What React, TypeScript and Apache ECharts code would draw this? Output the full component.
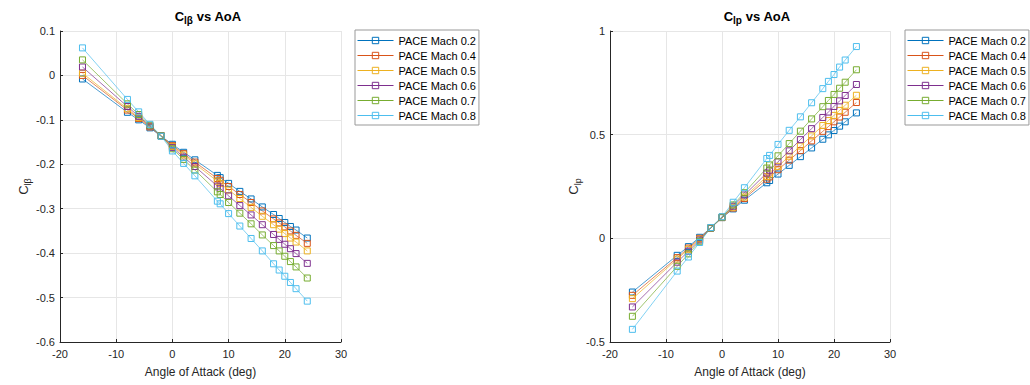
import React, { useEffect, useRef } from 'react';
import * as echarts from 'echarts';

const aoa = [-16, -8, -6, -4, -2, 0, 2, 4, 8, 8.5, 10, 12, 14, 16, 18, 19, 20, 21, 22, 24];
const machLabels = ['PACE Mach 0.2', 'PACE Mach 0.4', 'PACE Mach 0.5', 'PACE Mach 0.6', 'PACE Mach 0.7', 'PACE Mach 0.8'];

const clbM02 = [-0.008, -0.083, -0.100, -0.118, -0.137, -0.155, -0.173, -0.190, -0.225, -0.230, -0.243, -0.261, -0.278, -0.296, -0.313, -0.322, -0.331, -0.340, -0.348, -0.366];
const clbM04 = [0.000, -0.078, -0.097, -0.116, -0.136, -0.158, -0.176, -0.195, -0.232, -0.236, -0.250, -0.268, -0.286, -0.305, -0.323, -0.332, -0.341, -0.350, -0.360, -0.378];
const clbM05 = [0.005, -0.075, -0.095, -0.115, -0.136, -0.160, -0.179, -0.199, -0.238, -0.243, -0.258, -0.277, -0.297, -0.317, -0.336, -0.346, -0.356, -0.366, -0.375, -0.395];
const clbM06 = [0.019, -0.070, -0.092, -0.114, -0.136, -0.162, -0.184, -0.205, -0.249, -0.254, -0.271, -0.293, -0.314, -0.336, -0.358, -0.369, -0.380, -0.390, -0.401, -0.423];
const clbM07 = [0.035, -0.064, -0.088, -0.112, -0.136, -0.165, -0.189, -0.213, -0.262, -0.268, -0.286, -0.310, -0.334, -0.359, -0.383, -0.395, -0.407, -0.419, -0.431, -0.456];
const clbM08 = [0.062, -0.054, -0.082, -0.110, -0.137, -0.170, -0.198, -0.226, -0.283, -0.289, -0.311, -0.339, -0.367, -0.395, -0.424, -0.438, -0.452, -0.466, -0.480, -0.508];

const clpM02 = [-0.259, -0.082, -0.040, 0.005, 0.050, 0.100, 0.142, 0.184, 0.268, 0.279, 0.310, 0.352, 0.394, 0.436, 0.478, 0.499, 0.520, 0.541, 0.562, 0.605];
const clpM04 = [-0.275, -0.093, -0.047, 0.000, 0.050, 0.100, 0.146, 0.192, 0.285, 0.296, 0.331, 0.377, 0.423, 0.470, 0.516, 0.539, 0.562, 0.585, 0.608, 0.655];
const clpM05 = [-0.291, -0.100, -0.053, -0.004, 0.050, 0.101, 0.150, 0.199, 0.298, 0.310, 0.347, 0.396, 0.445, 0.494, 0.544, 0.568, 0.593, 0.617, 0.642, 0.690];
const clpM06 = [-0.331, -0.115, -0.062, -0.008, 0.050, 0.102, 0.155, 0.209, 0.315, 0.329, 0.369, 0.422, 0.476, 0.529, 0.583, 0.609, 0.636, 0.663, 0.689, 0.742];
const clpM07 = [-0.376, -0.135, -0.075, -0.014, 0.050, 0.102, 0.161, 0.220, 0.339, 0.354, 0.398, 0.457, 0.517, 0.576, 0.635, 0.665, 0.694, 0.724, 0.753, 0.813];
const clpM08 = [-0.439, -0.158, -0.090, -0.020, 0.052, 0.104, 0.174, 0.244, 0.385, 0.400, 0.453, 0.521, 0.586, 0.654, 0.722, 0.757, 0.790, 0.826, 0.860, 0.925];

const clbSeries = [clbM02, clbM04, clbM05, clbM06, clbM07, clbM08];
const clpSeries = [clpM02, clpM04, clpM05, clpM06, clpM07, clpM08];

const xTicks = { min: -20, max: 30, interval: 10 };
const clbTicks = { min: -0.6, max: 0.1, interval: 0.1 };
const clpTicks = { min: -0.5, max: 1, interval: 0.5 };

const colors = ['#0072BD', '#D95319', '#EDB120', '#7E2F8E', '#77AC30', '#4DBEEE'];
const FONT = 'Liberation Sans, Arial, sans-serif';
const AX = '#262626';

const fmt = (v: number) => String(+v.toFixed(2));

export default function App() {
  const ref = useRef<HTMLDivElement>(null);
  useEffect(() => {
    if (!ref.current) return;
    const chart = echarts.init(ref.current, null, { renderer: 'svg' });
    const grids = [
      { left: 60, top: 31, width: 281, height: 311 },
      { left: 610, top: 31, width: 280, height: 311 },
    ];
    const xAxis = grids.map((_, i) => ({
      type: 'value',
      gridIndex: i,
      ...xTicks,
      name: 'Angle of Attack (deg)',
      nameLocation: 'middle',
      nameGap: 24,
      nameTextStyle: { fontFamily: FONT, fontSize: 12, color: AX },
      axisLine: { onZero: false, lineStyle: { color: AX, width: 1 } },
      axisTick: { inside: true, length: 3, lineStyle: { color: AX } },
      axisLabel: { fontFamily: FONT, fontSize: 11, color: AX, margin: 6, formatter: fmt },
      splitLine: { show: true, lineStyle: { color: '#e6e6e6', width: 1 } },
    }));
    const subRich = {
      n: { fontFamily: FONT, fontSize: 13, color: AX },
      s: { fontFamily: FONT, fontSize: 9, color: AX, padding: [8, 0, 0, 0] },
    };
    const yAxis = [
      { ...clbTicks, name: '{n|C}{s|lβ}', gap: 16 },
      { ...clpTicks, name: '{n|C}{s|lp}', gap: 11 },
    ].map((t, i) => ({
      type: 'value',
      gridIndex: i,
      min: t.min,
      max: t.max,
      interval: t.interval,
      name: t.name,
      nameLocation: 'middle',
      nameRotate: 90,
      nameGap: t.gap,
      nameTextStyle: { rich: subRich },
      axisLine: { onZero: false, lineStyle: { color: AX, width: 1 } },
      axisTick: { inside: true, length: 3, lineStyle: { color: AX } },
      axisLabel: { fontFamily: FONT, fontSize: 11, color: AX, margin: 5, formatter: fmt },
      splitLine: { show: true, lineStyle: { color: '#e6e6e6', width: 1 } },
    }));
    const mk = (arr: number[][], gi: number) =>
      arr.map((vals, k) => ({
        type: 'line',
        name: machLabels[k],
        xAxisIndex: gi,
        yAxisIndex: gi,
        data: aoa.map((x, j) => [x, vals[j]]),
        symbol: 'rect',
        symbolSize: 6,
        color: colors[k],
        lineStyle: { color: colors[k], width: 0.7 },
        itemStyle: { color: 'rgba(255,255,255,0)', borderColor: colors[k], borderWidth: 1 },
      }));
    const titleRich = {
      b: { fontFamily: FONT, fontSize: 13, fontWeight: 'bold', color: '#000' },
      s: { fontFamily: FONT, fontSize: 10, fontWeight: 'bold', color: '#000', padding: [7, 0, 0, 0] },
    };
    const legendBase = {
      orient: 'vertical',
      top: 30,
      data: machLabels,
      itemWidth: 36,
      itemHeight: 8,
      itemGap: 2,
      padding: [4, 3, 3, 2],
      borderColor: '#999',
      borderWidth: 1,
      backgroundColor: '#fff',
      lineStyle: { width: 1 },
      itemStyle: { borderWidth: 1 },
      textStyle: { fontFamily: FONT, fontSize: 11, color: '#000', lineHeight: 13 },
    };
    chart.setOption({
      animation: false,
      backgroundColor: '#fff',
      title: [
        { text: '{b|C}{s|lβ}{b| vs AoA}', left: 203, top: 3, textAlign: 'center', textStyle: { rich: titleRich } },
        { text: '{b|C}{s|lp}{b| vs AoA}', left: 752, top: 3, textAlign: 'center', textStyle: { rich: titleRich } },
      ],
      legend: [
        { ...legendBase, left: 355 },
        { ...legendBase, left: 905 },
      ],
      grid: grids,
      xAxis,
      yAxis,
      series: [...mk(clbSeries, 0), ...mk(clpSeries, 1)],
    });
    return () => chart.dispose();
  }, []);
  return <div ref={ref} style={{ position: 'fixed', left: 0, top: 0, width: 1030, height: 385 }} />;
}
